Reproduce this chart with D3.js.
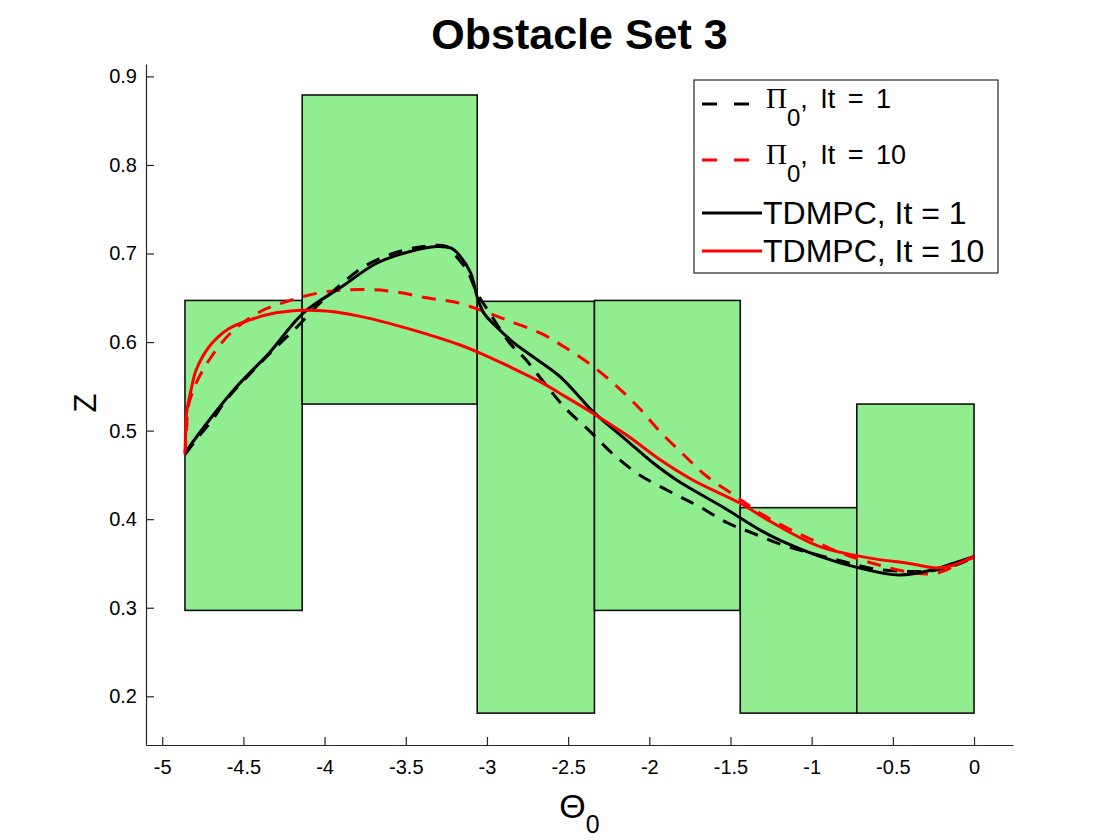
<!DOCTYPE html>
<html>
<head>
<meta charset="utf-8">
<script src="https://cdn.jsdelivr.net/npm/d3@7"></script>
<style>
  body{margin:0;background:#fff;}
  text{font-family:"Liberation Sans",Arial,Helvetica,sans-serif;fill:#000;}
</style>
</head>
<body>
<svg id="chart" width="1120" height="840"></svg>
<script>
// obstacle boxes (theta range, z range)
var obsX0=[-4.86,-4.138,-3.06,-2.338,-1.44,-0.722];
var obsX1=[-4.138,-3.06,-2.338,-1.44,-0.722,0];
var obsY0=[0.297,0.53,0.181,0.297,0.181,0.181];
var obsY1=[0.647,0.879,0.646,0.647,0.413,0.53];

// Pi_0, It = 1 (black dashed)
var pi1X=[-4.86,-4.79,-4.7,-4.6,-4.45,-4.3,-4.17,-4.03,-3.9,-3.76,-3.58,-3.39,-3.25,-3.19,-3.12,-3.06,-2.98,-2.86,-2.76,-2.63,-2.51,-2.37,-2.22,-2.06,-1.85,-1.69,-1.52,-1.36,-1.18,-0.99,-0.8,-0.62,-0.42,-0.25,-0.1,0];
var pi1Y=[0.473,0.49,0.51,0.536,0.566,0.594,0.617,0.644,0.665,0.685,0.7,0.708,0.708,0.697,0.68,0.655,0.632,0.599,0.58,0.55,0.524,0.5,0.473,0.45,0.429,0.414,0.396,0.384,0.371,0.361,0.352,0.344,0.341,0.342,0.349,0.357];
// Pi_0, It = 10 (red dashed)
var pi10X=[-4.86,-4.85,-4.84,-4.79,-4.71,-4.58,-4.4,-4.23,-4.05,-3.87,-3.62,-3.37,-3.17,-3.04,-2.88,-2.67,-2.51,-2.35,-2.2,-2.06,-1.94,-1.79,-1.65,-1.46,-1.32,-1.15,-0.99,-0.81,-0.62,-0.42,-0.23,-0.07,0];
var pi10Y=[0.473,0.5,0.527,0.554,0.58,0.61,0.634,0.646,0.655,0.659,0.658,0.65,0.644,0.636,0.625,0.61,0.593,0.573,0.55,0.525,0.5,0.473,0.449,0.425,0.407,0.39,0.376,0.361,0.35,0.341,0.339,0.352,0.357];
// TDMPC, It = 1 (black solid)
var td1X=[-4.86,-4.71,-4.54,-4.34,-4.13,-3.89,-3.68,-3.48,-3.31,-3.22,-3.17,-3.1,-3.06,-3.02,-2.94,-2.84,-2.69,-2.55,-2.43,-2.35,-2.14,-1.98,-1.83,-1.55,-1.26,-0.95,-0.71,-0.46,-0.25,-0.13,0];
var td1Y=[0.475,0.512,0.55,0.588,0.633,0.663,0.689,0.702,0.708,0.706,0.698,0.678,0.651,0.633,0.617,0.6,0.58,0.561,0.538,0.522,0.489,0.464,0.444,0.414,0.382,0.358,0.345,0.337,0.343,0.35,0.358];
// TDMPC, It = 10 (red solid)
var td10X=[-4.86,-4.855,-4.85,-4.82,-4.79,-4.71,-4.6,-4.46,-4.3,-4.13,-3.99,-3.78,-3.58,-3.37,-3.17,-3.06,-2.87,-2.67,-2.55,-2.35,-2.14,-1.94,-1.73,-1.44,-1.26,-0.95,-0.64,-0.4,-0.23,-0.13,0];
var td10Y=[0.475,0.5,0.52,0.548,0.569,0.595,0.614,0.625,0.633,0.636,0.635,0.629,0.62,0.609,0.597,0.589,0.573,0.555,0.542,0.52,0.495,0.468,0.444,0.418,0.398,0.369,0.356,0.35,0.345,0.348,0.358];

var xTicks=[-5,-4.5,-4,-3.5,-3,-2.5,-2,-1.5,-1,-0.5,0];
var yTicks=[0.2,0.3,0.4,0.5,0.6,0.7,0.8,0.9];

var svg=d3.select("#chart");
var xScale=d3.scaleLinear().domain([-5.1,0.24]).range([146,1013]);
var yScale=d3.scaleLinear().domain([0.145,0.914]).range([745,64]);

// obstacles
svg.selectAll("rect.obs")
   .data(obsX0)
   .enter()
   .append("rect")
   .attr("class","obs")
   .attr("x",function(d){return xScale(d);})
   .attr("y",function(d,i){return yScale(obsY1[i]);})
   .attr("width",function(d,i){return xScale(obsX1[i])-xScale(d);})
   .attr("height",function(d,i){return yScale(obsY0[i])-yScale(obsY1[i]);})
   .attr("fill","#90ee90")
   .attr("stroke","#111")
   .attr("stroke-width",1.6);

var line=d3.line()
  .x(function(d){return xScale(d[0]);})
  .y(function(d){return yScale(d[1]);})
  .curve(d3.curveCatmullRom.alpha(0.5));

var series=[
  {x:pi1X,y:pi1Y,color:"#000",dash:"14,10"},
  {x:pi10X,y:pi10Y,color:"#ff0000",dash:"14,10"},
  {x:td1X,y:td1Y,color:"#000",dash:null},
  {x:td10X,y:td10Y,color:"#ff0000",dash:null}
];
series.forEach(function(s){
  svg.append("path")
     .datum(s.x.map(function(v,i){return [v,s.y[i]];}))
     .attr("d",line)
     .attr("fill","none")
     .attr("stroke",s.color)
     .attr("stroke-width",3)
     .attr("stroke-dasharray",s.dash);
});

// axes (ticks point inward, no box)
var xAxis=d3.axisBottom(xScale).tickValues(xTicks).tickSizeInner(-8).tickSizeOuter(0).tickPadding(15)
  .tickFormat(function(d){return d3.format("")(d).replace("−","-");});
var yAxis=d3.axisLeft(yScale).tickValues(yTicks).tickSizeInner(-8).tickSizeOuter(0).tickPadding(9)
  .tickFormat(d3.format(".1f"));

var gx=svg.append("g").attr("transform","translate(0,745)").call(xAxis);
var gy=svg.append("g").attr("transform","translate(146,0)").call(yAxis);
[gx,gy].forEach(function(g){
  g.select(".domain").attr("stroke","#262626").attr("stroke-width",1.2);
  g.selectAll(".tick line").attr("stroke","#262626").attr("stroke-width",1.2);
  g.selectAll(".tick text").style("font-size","20px").attr("fill","#262626")
   .style("font-family","'Liberation Sans',Arial,sans-serif");
});

// title and labels
svg.append("text")
   .attr("x",579.5).attr("y",49)
   .attr("text-anchor","middle")
   .style("font-size","43px").style("font-weight","bold")
   .text("Obstacle Set 3");

svg.append("text")
   .attr("transform","translate(96,403) rotate(-90)")
   .attr("text-anchor","middle")
   .style("font-size","31px").attr("fill","#262626")
   .text("Z");

var xl=svg.append("text")
   .attr("x",579.5).attr("y",818)
   .attr("text-anchor","middle")
   .style("font-size","34px").attr("fill","#262626");
xl.append("tspan").text("Θ");
xl.append("tspan").attr("dy",15).style("font-size","25px").text("0");

// legend
var legX=694,legY=80;
svg.append("rect")
   .attr("x",legX).attr("y",legY).attr("width",304).attr("height",193)
   .attr("fill","#fff").attr("stroke","#262626").attr("stroke-width",1.2);

var legRows=[
  {color:"#000",dash:"15,17",ly:104,ty:108,pi:true,label:", It = 1"},
  {color:"#ff0000",dash:"15,17",ly:160,ty:164,pi:true,label:", It = 10"},
  {color:"#000",dash:null,ly:213,ty:224,pi:false,label:"TDMPC, It = 1"},
  {color:"#ff0000",dash:null,ly:251,ty:262,pi:false,label:"TDMPC, It = 10"}
];
legRows.forEach(function(r){
  svg.append("line")
     .attr("x1",702).attr("x2",r.dash?750:762)
     .attr("y1",r.ly).attr("y2",r.ly)
     .attr("stroke",r.color).attr("stroke-width",3)
     .attr("stroke-dasharray",r.dash);
  if(r.pi){
    var t=svg.append("text").attr("x",766).attr("y",r.ty).style("font-size","27px")
      .style("word-spacing","5px");
    t.append("tspan").style("font-family","'Liberation Serif','DejaVu Serif',serif").style("font-size","29px").text("Π");
    t.append("tspan").attr("dy",18).style("font-size","24px").text("0");
    t.append("tspan").attr("dy",-18).text(r.label);
  }else{
    svg.append("text").attr("x",763).attr("y",r.ty).style("font-size","32px").text(r.label);
  }
});
</script>
</body>
</html>
